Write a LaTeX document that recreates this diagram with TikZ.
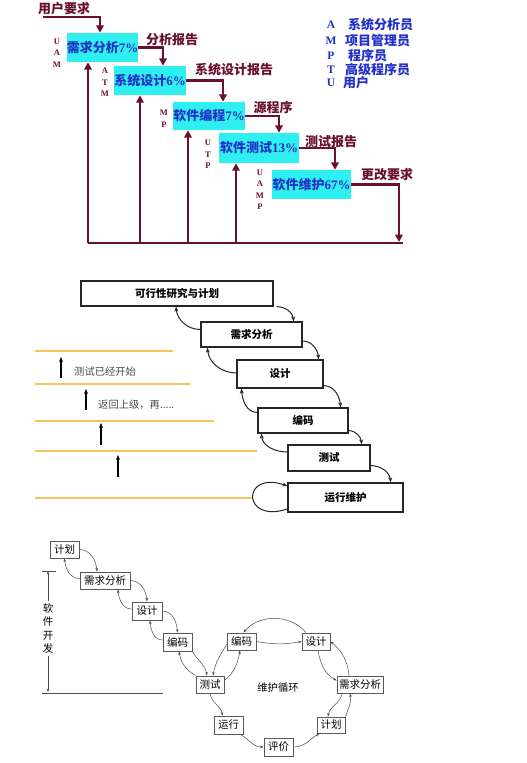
\documentclass[tikz,border=0pt]{standalone}
\usepackage{fontspec}
\setmainfont{Liberation Serif}
\newfontfamily\cjk{Noto Sans CJK SC}
\usetikzlibrary{arrows.meta}
\definecolor{mar}{HTML}{6A1030}
\definecolor{cyanbox}{HTML}{2EF0F0}
\definecolor{bluetext}{HTML}{2230C8}
\definecolor{orng}{HTML}{F9C25C}
\newcommand{\lat}[1]{{\rmfamily #1}}
\begin{document}
\begin{tikzpicture}[x=1pt,y=-1pt,
  cbox/.style={fill=cyanbox, inner sep=0pt, text=bluetext, font=\cjk\bfseries\fontsize{13}{15}\selectfont},
  marrow/.style={draw=mar, line width=2.2pt, -{Triangle[width=7.5pt,length=7.5pt]}},
  mline/.style={draw=mar, line width=2.2pt},
  lab/.style={text=mar, inner sep=0pt, font=\cjk\bfseries\fontsize{13}{15}\selectfont},
  ltr/.style={text=mar, inner sep=0pt, align=center, font=\rmfamily\bfseries\fontsize{8.5}{11.5}\selectfont},
  legl/.style={text=bluetext, inner sep=0pt, font=\rmfamily\bfseries\fontsize{11.5}{14}\selectfont},
  legt/.style={text=bluetext, inner sep=0pt, anchor=west, font=\cjk\bfseries\fontsize{13}{15}\selectfont},
  mbox/.style={draw=black!85, line width=1.2pt, inner sep=0pt, font=\cjk\bfseries\fontsize{10.5}{12}\selectfont},
  fa/.style={draw=black!85, line width=1pt, -{Stealth[length=5pt,width=4pt]}},
  oline/.style={draw=orng, line width=2.6pt},
  upa/.style={draw=black, line width=1.2pt, -{Stealth[length=5pt,width=4pt]}},
  glab/.style={text=black!70, inner sep=0pt, anchor=west, font=\cjk\fontsize{10.3}{12}\selectfont},
  sbox/.style={draw=black!65, line width=0.9pt, fill=white, inner sep=0pt, font=\cjk\fontsize{10.5}{12}\selectfont},
  sa/.style={draw=black!70, line width=0.5pt, -{Stealth[length=3.5pt,width=2.6pt]}},
  sl/.style={draw=black!70, line width=0.6pt}
]
\fill[white] (0,0) rectangle (527,763);
\useasboundingbox (0,0) rectangle (527,763);

% ===== top section =====
\node[cbox, minimum width=69pt, minimum height=29pt] (b1) at (102.5,47.5) {需求分析\lat{7\%}};
\node[cbox, minimum width=68pt, minimum height=29pt] (b2) at (150,80.5) {系统设计\lat{6\%}};
\node[cbox, minimum width=68pt, minimum height=28pt] (b3) at (209,116) {软件编程\lat{7\%}};
\node[cbox, minimum width=80pt, minimum height=30pt] (b4) at (259,148) {软件测试\lat{13\%}};
\node[cbox, minimum width=79pt, minimum height=29pt] (b5) at (311.5,184.5) {软件维护\lat{67\%}};

\node[lab] (t0) at (64,9) {用户要求};
\node[lab] (t1) at (172,40) {分析报告};
\node[lab] (t2) at (234,70) {系统设计报告};
\node[lab] (t3) at (273,108) {源程序};
\node[lab] (t4) at (331,142) {测试报告};
\node[lab] (t5) at (387,175) {更改要求};

\node[ltr] (r1) at (57,53) {U\\A\\M};
\node[ltr] (r2) at (105,82.5) {A\\T\\M};
\node[ltr] (r3) at (164,118.5) {M\\P};
\node[ltr] (r4) at (208,154.5) {U\\T\\P};
\node[ltr] (r5) at (260,189.5) {U\\A\\M\\P};

\coordinate (u0) at (43,17);
\draw[marrow] (u0) -| ([xshift=-2.5pt]b1.north);
\draw[marrow] (b1.east) -| ([xshift=13pt]b2.north);
\draw[marrow] (b2.east) -| ([xshift=14pt]b3.north);
\draw[marrow] (b3.east) -| ([xshift=20pt]b4.north);
\draw[marrow] (b4.east) -| ([xshift=23.5pt]b5.north);
\coordinate (e5) at (399,242);
\draw[marrow] (b5.east) -| (e5);
\coordinate (bl) at (88,243);
\coordinate (br) at (403,243);
\coordinate (u2) at (140,243);
\coordinate (u3) at (188,243);
\coordinate (u4) at (236,243);
\draw[mline] (bl) -- (br);
\draw[marrow] (bl) -- (bl |- b1.south);
\draw[marrow] (u2) -- (u2 |- b2.south);
\draw[marrow] (u3) -- (u3 |- b3.south);
\draw[marrow] (u4) -- (u4 |- b4.south);

% legend
\node[legl] (la) at (331,25) {A};
\node[legt] (lat) at (348,25) {系统分析员};
\node[legl] (lm) at (331,41) {M};
\node[legt] (lmt) at (345,41) {项目管理员};
\node[legl] (lp) at (331,56) {P};
\node[legt] (lpt) at (348,56) {程序员};
\node[legl] (lt) at (331,70) {T};
\node[legt] (ltt) at (345,70) {高级程序员};
\node[legl] (lu) at (331,83) {U};
\node[legt] (lut) at (343,83) {用户};

% ===== middle section =====
\draw[oline] (35,351) -- (173,351);
\draw[oline] (35,384) -- (190,384);
\draw[oline] (35,421) -- (214,421);
\draw[oline] (35,451) -- (257,451);
\draw[oline] (35,498) -- (253,498);

\node[mbox, minimum width=192pt, minimum height=25pt] (m1) at (177,293.5) {可行性研究与计划};
\node[mbox, minimum width=101pt, minimum height=25pt] (m2) at (251.5,334.5) {需求分析};
\node[mbox, minimum width=86pt, minimum height=28pt] (m3) at (280,374) {设计};
\node[mbox, minimum width=90pt, minimum height=25pt] (m4) at (303,420.5) {编码};
\node[mbox, minimum width=82pt, minimum height=26pt] (m5) at (329,458) {测试};
\node[mbox, minimum width=115pt, minimum height=29pt] (m6) at (345.5,497.5) {运行维护};

\draw[fa] ([xshift=3pt]m1.south east) to[out=0,in=95] ([xshift=-9pt]m2.north east);
\draw[fa] ([yshift=-6.5pt]m2.east) to[out=0,in=95] ([xshift=-5pt]m3.north east);
\draw[fa] ([yshift=3pt]m3.south east) to[out=0,in=95] ([xshift=-8pt]m4.north east);
\draw[fa] ([yshift=3pt]m4.south east) to[out=0,in=95] ([xshift=-9pt]m5.north east);
\draw[fa] ([yshift=6pt]m5.south east) to[out=0,in=95] ([xshift=-13pt]m6.north east);

\draw[fa] ([yshift=5pt]m2.west) to[out=180,in=-85] ([xshift=-1pt]m1.south);
\draw[fa] ([yshift=1pt]m3.west) to[out=180,in=-85] ([xshift=7pt]m2.south west);
\draw[fa] ([yshift=8pt]m4.west) to[out=180,in=-85] ([xshift=5pt]m3.south west);
\draw[fa] ([yshift=6pt]m5.west) to[out=180,in=-85] ([xshift=4pt]m4.south west);
\draw[fa] ([yshift=-11.5pt]m6.west) .. controls +(-46,15) and +(-46,-16) .. ([yshift=11.5pt]m6.west);

\coordinate (a1s) at (61,378); \coordinate (a1e) at (61,357);
\coordinate (a2s) at (86,410); \coordinate (a2e) at (86,389);
\coordinate (a3s) at (101,445); \coordinate (a3e) at (101,423);
\coordinate (a4s) at (118,477); \coordinate (a4e) at (118,455);
\draw[upa] (a1s) -- (a1e);
\draw[upa] (a2s) -- (a2e);
\draw[upa] (a3s) -- (a3e);
\draw[upa] (a4s) -- (a4e);
\node[glab] (g1) at (74,372) {测试已经开始};
\node[glab] (g2) at (98,405) {返回上级，再.....};

% ===== bottom section =====
\node[sbox, minimum width=29pt, minimum height=17pt] (c1) at (64.5,549.5) {计划};
\node[sbox, minimum width=50pt, minimum height=17pt] (c2) at (105,580.5) {需求分析};
\node[sbox, minimum width=30pt, minimum height=18pt] (c3) at (147,611) {设计};
\node[sbox, minimum width=29pt, minimum height=18pt] (c4) at (177.5,642) {编码};
\node[sbox, minimum width=28pt, minimum height=17pt] (c5) at (210,684.5) {测试};
\node[sbox, minimum width=29pt, minimum height=18pt] (c6) at (228.5,725) {运行};
\node[sbox, minimum width=29pt, minimum height=18pt] (c7) at (278.5,747) {评价};
\node[sbox, minimum width=28pt, minimum height=16pt] (c8) at (331,725) {计划};
\node[sbox, minimum width=46pt, minimum height=17pt] (c9) at (360,684.5) {需求分析};
\node[sbox, minimum width=28pt, minimum height=17pt] (c10) at (316,641.5) {设计};
\node[sbox, minimum width=29pt, minimum height=17pt] (c11) at (241.5,641.5) {编码};
\node[inner sep=0pt, font=\cjk\fontsize{10.3}{12}\selectfont] (wh) at (278,688) {维护循环};

% left chain
\draw[sa] (c1.east) to[out=0,in=95] ([xshift=-8pt]c2.north);
\draw[sa] ([yshift=2pt]c2.west) to[out=180,in=-85] (c1.south);
\draw[sa] (c2.east) to[out=0,in=95] (c3.north);
\draw[sa] ([yshift=2pt]c3.west) to[out=180,in=-85] ([xshift=13pt]c2.south);
\draw[sa] (c3.east) to[out=0,in=95] (c4.north);
\draw[sa] ([yshift=2pt]c4.west) to[out=180,in=-85] ([xshift=3pt]c3.south);
\draw[sa] (c4.south east) to[out=-60,in=100] ([xshift=-3pt]c5.north);
\draw[sa] (c5.north west) to[out=150,in=-80] ([xshift=1.5pt]c4.south);

% maintenance cycle
\draw[sa] (c5.south) to[out=-80,in=100] ([xshift=-6pt]c6.north);
\draw[sa] ([xshift=-3pt]c6.south east) to[out=-30,in=180] (c7.west);
\draw[sa] (c7.east) to[out=0,in=-150] ([xshift=3pt]c8.south west);
\draw[sa] (c8.north east) to[out=70,in=-80] ([xshift=-10pt]c9.south);
\draw[sa] ([xshift=-18pt]c9.south) to[out=-100,in=80] ([xshift=-3pt]c8.north);
\draw[sa] ([xshift=-11pt]c9.north) to[out=95,in=-40] (c10.east);
\draw[sa] ([xshift=2pt]c10.south) to[out=-80,in=150] ([yshift=4pt]c9.west);
\draw[sa] ([xshift=-10pt]c10.north) to[out=130,in=50] ([xshift=2pt]c11.north);
\draw[sa] (c11.east) to[out=-10,in=190] (c10.west);
\draw[sa] ([yshift=-3pt]c11.west) to[out=-120,in=80] ([xshift=3pt]c5.north);
\draw[sa] ([yshift=4pt]c5.east) to[out=40,in=-100] ([xshift=-1.5pt]c11.south);

% software development bracket
\node[inner sep=0pt, align=center, font=\cjk\fontsize{10.5}{13.5}\selectfont] (vt) at (48,628.5) {软\\件\\开\\发};
\coordinate (vtop) at (48,571);
\coordinate (vbot) at (48,692);
\coordinate (tk1) at (42,571); \coordinate (tk2) at (56,571);
\coordinate (hl1) at (42,693); \coordinate (hl2) at (163,693);
\draw[sl] (tk1) -- (tk2);
\draw[sl] (hl1) -- (hl2);
\draw[sa] ([yshift=2pt]vt.north) -- (vtop);
\draw[sa] ([yshift=-2pt]vt.south) -- (vbot);
\end{tikzpicture}
\end{document}
